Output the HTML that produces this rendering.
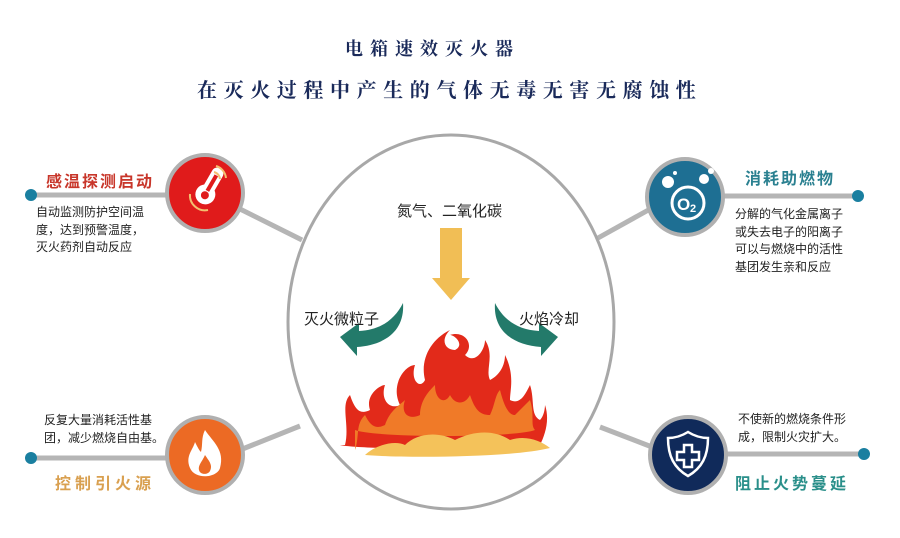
<!DOCTYPE html>
<html><head><meta charset="utf-8"><style>
body{margin:0;width:900px;height:538px;background:#fff;overflow:hidden;position:relative;font-family:"Liberation Sans","Noto Sans CJK SC",sans-serif}
.t{position:absolute;white-space:nowrap}
.d{font-size:12px;color:#222;line-height:17.5px}
.h{font-size:16px;font-weight:bold;letter-spacing:2px}
</style></head><body>
<svg width="900" height="538" style="position:absolute;left:0;top:0">
<g stroke="#b5b5b5" stroke-width="5" fill="none">
<line x1="31" y1="195" x2="180" y2="195"/>
<line x1="31" y1="458" x2="180" y2="458"/>
<line x1="710" y1="196" x2="858" y2="196"/>
<line x1="710" y1="454" x2="864" y2="454"/>
<line x1="238" y1="208" x2="302" y2="240"/>
<line x1="240" y1="450" x2="300" y2="426"/>
<line x1="652" y1="208" x2="598" y2="238"/>
<line x1="652" y1="447" x2="600" y2="427"/>
</g>
<ellipse cx="451" cy="322" rx="163" ry="187" fill="#fff" stroke="#a8a8a8" stroke-width="3"/>
<g fill="#1a7fa0"><circle cx="31" cy="195" r="6"/><circle cx="31" cy="458" r="6"/><circle cx="858" cy="196" r="6"/><circle cx="864" cy="454" r="6"/></g>
<!-- TL -->
<circle cx="205" cy="193" r="38" fill="#e01b1b" stroke="#b0b0b0" stroke-width="4"/>
<g transform="rotate(30 205 193)">
<path d="M200 170 a6 6 0 0 1 12 0 v16 a10 10 0 1 1 -12 0z" fill="#fff"/>
<rect x="204" y="172" width="4" height="18" fill="#e01b1b"/>
<circle cx="206" cy="195" r="4" fill="#e01b1b"/>
</g>
<path d="M190 194 a15 15 0 0 0 18 16" stroke="#f3c070" stroke-width="2" fill="none"/>
<path d="M214 172 a8 8 0 0 1 6 7 M216 166 a14 14 0 0 1 10 12" stroke="#f3c070" stroke-width="2" fill="none"/>
<!-- TR -->
<circle cx="685" cy="197" r="38" fill="#1e6f93" stroke="#b0b0b0" stroke-width="4"/>
<circle cx="688" cy="203" r="16" fill="none" stroke="#fff" stroke-width="3"/>
<text x="677" y="210" font-size="17" font-weight="bold" fill="#fff" font-family="Liberation Sans">O</text><text x="690" y="212" font-size="11" font-weight="bold" fill="#fff" font-family="Liberation Sans">2</text>
<circle cx="668" cy="182" r="6" fill="#fff"/><circle cx="704" cy="179" r="5" fill="#fff"/><circle cx="711" cy="171" r="3" fill="#fff"/><circle cx="675" cy="173" r="2" fill="#fff"/>
<!-- BL -->
<circle cx="205" cy="455" r="38" fill="#ec6a24" stroke="#b0b0b0" stroke-width="4"/>
<path d="M205 430 c8 12 20 20 15 38 c-3 10 -25 12 -30 0 c-5 -12 3 -18 5 -26 c3 6 4 8 6 10 c2 -8 0 -14 4 -22z" fill="#fff"/>
<path d="M205 455 c4 6 8 10 5 16 c-2 4 -10 4 -11 -1 c-1 -5 3 -8 6 -15z" fill="#ec6a24"/>
<!-- BR -->
<circle cx="688" cy="455" r="38" fill="#102a5a" stroke="#b0b0b0" stroke-width="4"/>
<path d="M688 432 c8 5 14 6 20 6 c0 18 -6 30 -20 38 c-14 -8 -20 -20 -20 -38 c6 0 12 -1 20 -6z" fill="none" stroke="#fff" stroke-width="2.5"/>
<path d="M684 445 h8 v7 h7 v8 h-7 v7 h-8 v-7 h-7 v-8 h7z" fill="none" stroke="#fff" stroke-width="2.5"/>
<!-- inner arrows -->
<path d="M440 228 h22 v50 h8 l-19 22 l-19 -22 h8z" fill="#f1be55"/>
<path d="M403 303 c2 28 -18 42 -46 44 v9 l-17 -19 l19 -14 v8 c22 -1 36 -12 44 -28z" fill="#237a6a"/>
<path d="M495 303 c-2 28 18 42 46 44 v9 l17 -19 l-19 -14 v8 c-22 -1 -36 -12 -44 -28z" fill="#237a6a"/>
<!-- flames -->
<path d="M345 445 c5 -20 -5 -40 5 -50 c5 15 10 20 20 15 c-5 -15 10 -25 15 -25 c-5 15 5 25 15 20 c-10 -20 5 -40 15 -40 c-5 15 5 25 10 15 c-5 -20 5 -40 25 -50 c-10 10 -5 20 5 20 c10 -5 0 -15 -5 -15 c15 -5 25 10 15 20 c10 10 20 -5 20 -15 c10 15 0 30 5 40 c10 -5 15 -15 15 -25 c10 20 5 35 5 45 c10 5 15 -5 20 -15 c5 15 0 30 10 35 c5 -5 5 -15 5 -15 c5 15 0 30 -5 40 c-20 5 -180 5 -200 0z" fill="#e22a1a"/>
<path d="M355 450 c5 -15 0 -25 10 -35 c5 10 10 15 20 10 c5 -15 15 -20 20 -25 c-5 15 5 20 15 15 c0 -15 10 -25 15 -30 c0 15 10 20 15 10 c5 10 15 10 20 0 c5 15 10 20 20 20 c5 -10 5 -20 10 -25 c5 20 10 25 15 25 c5 -5 10 -10 15 -15 c5 15 0 25 5 30 c-20 8 -160 8 -180 0z" fill="#f07a28"/>
<path d="M365 455 c10 -10 30 -15 40 -10 c10 -10 30 -15 50 -5 c20 -10 40 -10 55 0 c15 -5 30 0 40 8 c-40 10 -150 10 -185 7z" fill="#f4c25a"/>
</svg>
<div class="t" style="left:345px;top:35px;font-size:18px;font-weight:bold;color:#1a2a5a;letter-spacing:7px;font-family:'Liberation Serif','Noto Serif CJK SC',serif">电箱速效灭火器</div>
<div class="t" style="left:197px;top:74px;font-size:20px;font-weight:bold;color:#1a2a5a;letter-spacing:6.6px;font-family:'Liberation Serif','Noto Serif CJK SC',serif">在灭火过程中产生的气体无毒无害无腐蚀性</div>
<div class="t h" style="left:46px;top:168px;color:#c8362a">感温探测启动</div>
<div class="t d" style="left:36px;top:204px">自动监测防护空间温<br>度，达到预警温度，<br>灭火药剂自动反应</div>
<div class="t h" style="left:745px;top:165px;color:#2a8090">消耗助燃物</div>
<div class="t d" style="left:735px;top:206px">分解的气化金属离子<br>或失去电子的阳离子<br>可以与燃烧中的活性<br>基团发生亲和反应</div>
<div class="t d" style="left:44px;top:412px">反复大量消耗活性基<br>团，减少燃烧自由基。</div>
<div class="t h" style="left:55px;top:470px;color:#d9a050;letter-spacing:4px">控制引火源</div>
<div class="t d" style="left:738px;top:411px">不使新的燃烧条件形<br>成，限制火灾扩大。</div>
<div class="t h" style="left:735px;top:470px;color:#2a8f8a;letter-spacing:3px">阻止火势蔓延</div>
<div class="t" style="left:397px;top:200px;font-size:15px;color:#222">氮气、二氧化碳</div>
<div class="t" style="left:304px;top:308px;font-size:15px;color:#222">灭火微粒子</div>
<div class="t" style="left:519px;top:308px;font-size:15px;color:#222">火焰冷却</div>
</body></html>
